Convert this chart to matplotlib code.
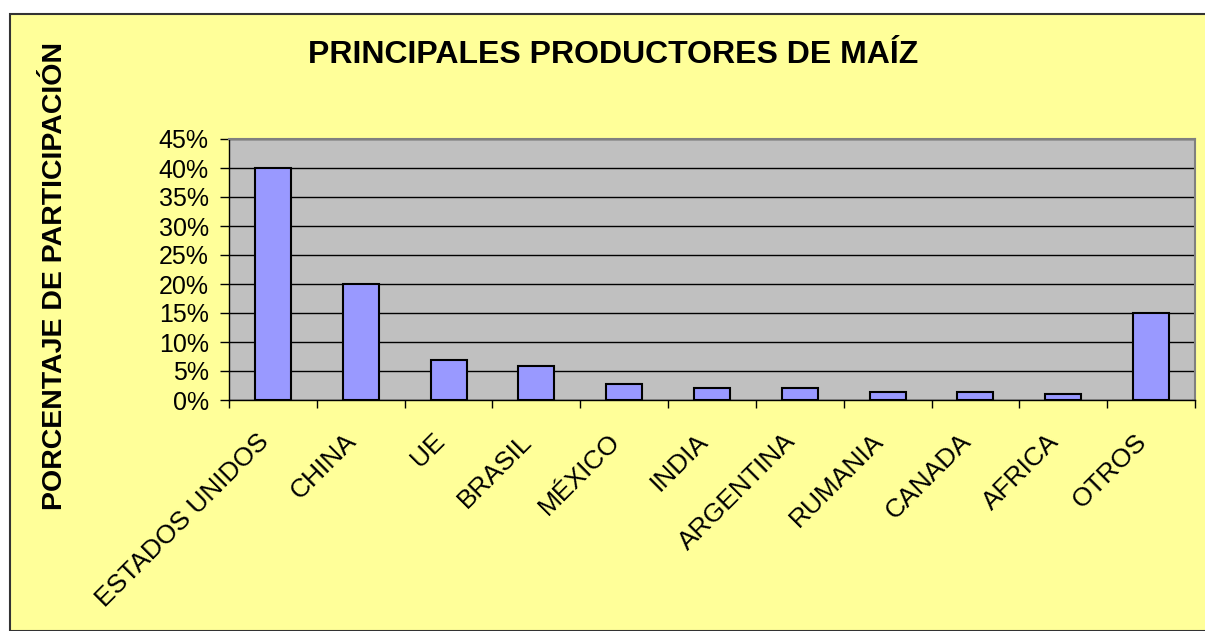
import matplotlib.pyplot as plt
import numpy as np
from matplotlib.patches import Rectangle
from matplotlib.ticker import FuncFormatter
from matplotlib.transforms import ScaledTranslation

plt.rcParams['font.family'] = ['Liberation Sans', 'DejaVu Sans']

# datos
paises = ['ESTADOS UNIDOS', 'CHINA', 'UE', 'BRASIL', 'MÉXICO', 'INDIA',
          'ARGENTINA', 'RUMANIA', 'CANADA', 'AFRICA', 'OTROS']
participacion = [40.0, 20.0, 6.9, 5.8, 2.7, 2.0, 2.0, 1.3, 1.3, 1.0, 15.0]
yticks = [0, 5, 10, 15, 20, 25, 30, 35, 40, 45]

fig = plt.figure(figsize=(12.05, 6.31), dpi=100)
fig.patch.set_facecolor('white')
# fondo amarillo del grafico con borde
fig.patches.append(Rectangle((10/1205, 0), 1.0, 1 - 14/631, transform=fig.transFigure,
                             facecolor='#FFFF99', edgecolor='#333333', linewidth=1.5, zorder=-10))

ax = fig.add_axes([229/1205, 1 - 400/631, 966/1205, 261/631])
ax.set_facecolor('#C0C0C0')

x = np.arange(len(paises))
ax.bar(x, participacion, width=0.41, color='#9999FF', edgecolor='black', linewidth=1.5, zorder=3)

ax.set_xlim(-0.5, len(paises) - 0.5)
ax.set_ylim(0, 45)
ax.set_yticks(yticks)
ax.yaxis.set_major_formatter(FuncFormatter(lambda v, p: '%d%%' % v))
ax.yaxis.grid(True, color='black', linewidth=1)
ax.set_axisbelow(True)

ax.set_xticks(x)
ax.set_xticklabels(paises, rotation=45, ha='right', va='center', rotation_mode='anchor', fontsize=19)
ax.set_xticks(np.arange(len(paises) + 1) - 0.5, minor=True)
ax.tick_params(axis='x', which='major', length=0, pad=27)
ax.tick_params(axis='x', which='minor', length=6, width=1, direction='out')
ax.tick_params(axis='y', length=6.5, width=1, labelsize=18, pad=8)
# desplazar etiquetas un poco a la izquierda
for lbl in ax.get_xticklabels():
    lbl.set_transform(lbl.get_transform() + ScaledTranslation(-0.08, 0, fig.dpi_scale_trans))

for s in ['top', 'right']:
    ax.spines[s].set_color('#808080')
    ax.spines[s].set_linewidth(1.5)
for s in ['left', 'bottom']:
    ax.spines[s].set_color('black')
    ax.spines[s].set_linewidth(1)

fig.text(613/1205, 1 - 55/631, 'PRINCIPALES PRODUCTORES DE MAÍZ', ha='center', va='center',
         fontsize=23, fontweight='bold')
fig.text(55/1205, 1 - 276/631, 'PORCENTAJE DE PARTICIPACIÓN', ha='center', va='center',
         rotation=90, fontsize=20.5, fontweight='bold')

plt.savefig('out.png', dpi=100)
